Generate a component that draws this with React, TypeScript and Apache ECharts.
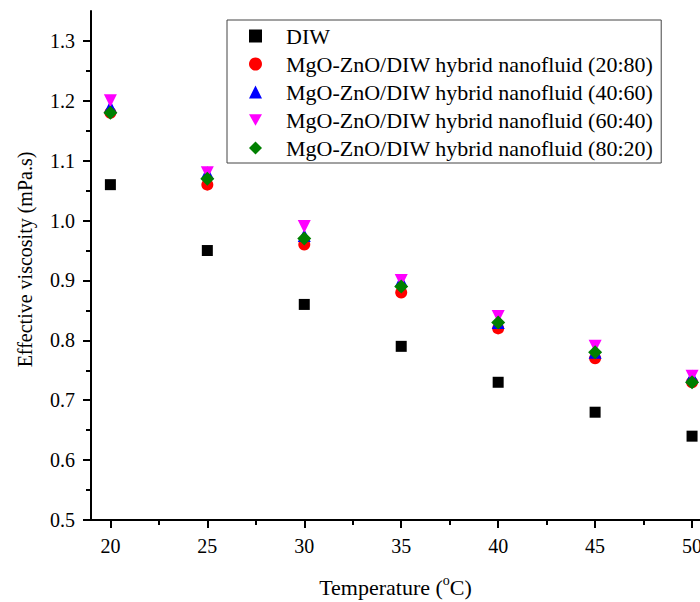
import React, { useEffect, useRef } from "react";
import * as echarts from "echarts";

const temperatures = [20, 25, 30, 35, 40, 45, 50];
const diw = [1.06, 0.95, 0.86, 0.79, 0.73, 0.68, 0.64];
const hybrid2080 = [1.18, 1.06, 0.96, 0.88, 0.82, 0.77, 0.73];
const hybrid4060 = [1.19, 1.08, 0.975, 0.9, 0.83, 0.78, 0.74];
const hybrid6040 = [1.2, 1.08, 0.99, 0.9, 0.84, 0.79, 0.74];
const hybrid8020 = [1.18, 1.07, 0.97, 0.89, 0.83, 0.78, 0.73];

const seriesNames = [
  "DIW",
  "MgO-ZnO/DIW hybrid nanofluid (20:80)",
  "MgO-ZnO/DIW hybrid nanofluid (40:60)",
  "MgO-ZnO/DIW hybrid nanofluid (60:40)",
  "MgO-ZnO/DIW hybrid nanofluid (80:20)",
];

const xMajorTicks = [20, 25, 30, 35, 40, 45, 50];
const xMinorTicks = [22.5, 27.5, 32.5, 37.5, 42.5, 47.5];
const yMajorTicks = [0.5, 0.6, 0.7, 0.8, 0.9, 1.0, 1.1, 1.2, 1.3];
const yMinorTicks = [0.55, 0.65, 0.75, 0.85, 0.95, 1.05, 1.15, 1.25];

const FONT = "'Liberation Serif', 'Times New Roman', serif";

export default function App() {
  const ref = useRef<HTMLDivElement>(null);

  useEffect(() => {
    if (!ref.current) return;
    const chart = echarts.init(ref.current, null, { renderer: "svg" });
    const pairs = (ys: number[]) => temperatures.map((t, i) => [t, ys[i]]);
    const axisLine = { show: true, lineStyle: { color: "#000", width: 2 } };
    const xBase = {
      type: "value",
      min: 19,
      max: 50.41,
      splitLine: { show: false },
    };
    const yBase = {
      type: "value",
      min: 0.5,
      max: 1.35,
      splitLine: { show: false },
    };
    chart.setOption({
      animation: false,
      backgroundColor: "#fff",
      textStyle: { fontFamily: FONT },
      grid: { left: 91, top: 11, right: 0, bottom: 82, containLabel: false, outerBoundsMode: "none" },
      legend: {
        orient: "vertical",
        left: 227,
        top: 20,
        itemWidth: 13,
        itemHeight: 13,
        itemGap: 6,
        padding: [5, 8, 4, 22],
        borderColor: "#444",
        borderWidth: 1,
        textStyle: {
          fontFamily: FONT,
          fontSize: 22,
          color: "#000",
          padding: [0, 0, 0, 19],
        },
        data: seriesNames,
      },
      xAxis: [
        {
          ...xBase,
          name: "Temperature ({sup|o}C)",
          nameLocation: "middle",
          nameGap: 53,
          nameTextStyle: {
            fontFamily: FONT,
            fontSize: 22,
            lineHeight: 28,
            color: "#000",
            rich: {
              sup: { fontFamily: FONT, fontSize: 14, color: "#000", verticalAlign: "top", lineHeight: 14 },
            },
          },
          axisLine,
          axisTick: { show: true, inside: false, length: 8, lineStyle: { width: 2, color: "#000" }, customValues: xMajorTicks },
          axisLabel: { fontFamily: FONT, fontSize: 20, color: "#000", margin: 16, customValues: xMajorTicks },
        },
        {
          ...xBase,
          position: "bottom",
          axisLine: { show: false },
          axisTick: { show: true, inside: false, length: 5, lineStyle: { width: 2, color: "#000" }, customValues: xMinorTicks },
          axisLabel: { show: false },
        },
      ],
      yAxis: [
        {
          ...yBase,
          name: "Effective viscosity (mPa.s)",
          nameLocation: "middle",
          nameGap: 56,
          nameTextStyle: { fontFamily: FONT, fontSize: 20, color: "#000", padding: [0, 0, 0, 12] },
          axisLine,
          axisTick: { show: true, inside: false, length: 8, lineStyle: { width: 2, color: "#000" }, customValues: yMajorTicks },
          axisLabel: {
            fontFamily: FONT,
            fontSize: 20,
            color: "#000",
            margin: 16,
            customValues: yMajorTicks,
            formatter: (v: number) => v.toFixed(1),
          },
        },
        {
          ...yBase,
          position: "left",
          axisLine: { show: false },
          axisTick: { show: true, inside: false, length: 5, lineStyle: { width: 2, color: "#000" }, customValues: yMinorTicks },
          axisLabel: { show: false },
        },
      ],
      series: [
        { name: seriesNames[0], type: "scatter", symbol: "rect", symbolSize: 11, itemStyle: { color: "#000", opacity: 1 }, data: pairs(diw) },
        { name: seriesNames[1], type: "scatter", symbol: "circle", symbolSize: 12, itemStyle: { color: "#ff0000", opacity: 1 }, data: pairs(hybrid2080) },
        { name: seriesNames[2], type: "scatter", symbol: "triangle", symbolSize: 13, itemStyle: { color: "#0000ff", opacity: 1 }, data: pairs(hybrid4060) },
        { name: seriesNames[3], type: "scatter", symbol: "path://M0,0 L2,0 L1,1.8 Z", symbolSize: 13, itemStyle: { color: "#ff00ff", opacity: 1 }, data: pairs(hybrid6040) },
        { name: seriesNames[4], type: "scatter", symbol: "diamond", symbolSize: 14, itemStyle: { color: "#008000", opacity: 1 }, data: pairs(hybrid8020) },
      ],
    });
    return () => chart.dispose();
  }, []);

  return (
    <div
      ref={ref}
      style={{ position: "fixed", left: 0, top: 0, width: 700, height: 602, background: "#fff" }}
    />
  );
}
